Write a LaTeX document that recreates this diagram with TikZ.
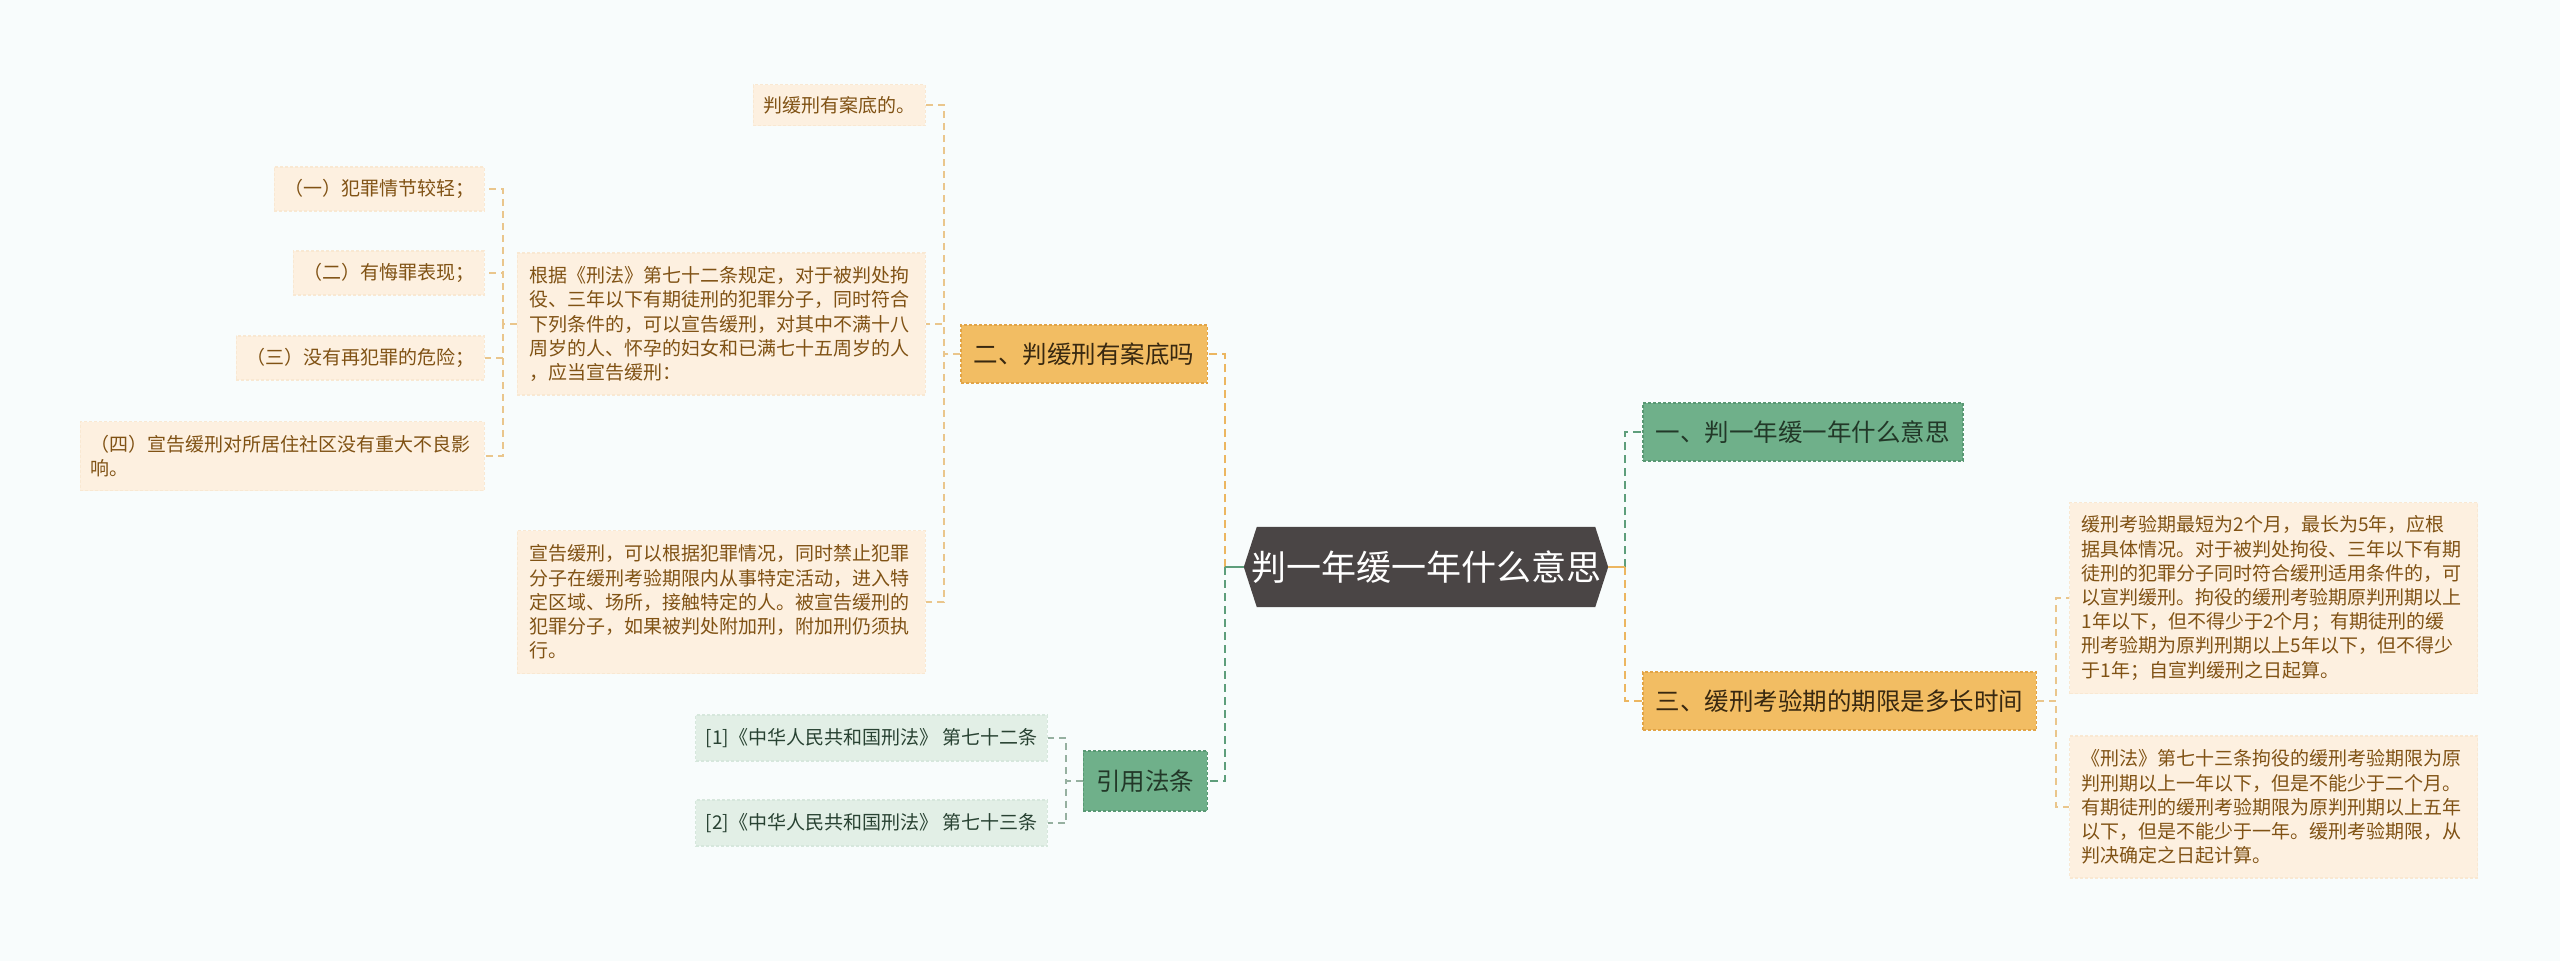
\documentclass[tikz,border=0pt]{standalone}
\usepackage{fontspec}
\setmainfont{Noto Sans CJK SC}
\usetikzlibrary{calc,backgrounds}
\definecolor{bgc}{RGB}{248,252,252}
\definecolor{hexc}{RGB}{74,69,69}
\definecolor{grnfill}{RGB}{111,176,138}
\definecolor{grnline}{RGB}{88,152,115}
\definecolor{grntext}{RGB}{34,56,40}
\definecolor{orfill}{RGB}{242,189,99}
\definecolor{orline}{RGB}{226,164,70}
\definecolor{ortext}{RGB}{56,40,16}
\definecolor{crfill}{RGB}{253,240,224}
\definecolor{crline}{RGB}{249,232,210}
\definecolor{crtext}{RGB}{128,82,20}
\definecolor{lgfill}{RGB}{226,239,230}
\definecolor{lgline}{RGB}{214,231,220}
\definecolor{lgtext}{RGB}{40,66,50}
\definecolor{cong}{RGB}{94,158,123}
\definecolor{cono}{RGB}{236,182,96}
\definecolor{conl}{RGB}{234,198,140}
\definecolor{conlg}{RGB}{150,176,160}
\tikzset{
  branchg/.style={rectangle, fill=grnfill, draw=grnline, dash pattern=on 3pt off 2pt, line width=1.5pt,
    text=grntext, font=\fontsize{24.5}{29}\selectfont, inner xsep=13pt, minimum height=58pt},
  brancho/.style={rectangle, fill=orfill, draw=orline, dash pattern=on 3pt off 2pt, line width=1.5pt,
    text=ortext, font=\fontsize{24.5}{29}\selectfont, inner xsep=13pt, minimum height=58pt},
  leafc/.style={rectangle, fill=crfill, draw=crline, dash pattern=on 3pt off 2pt, line width=1.2pt,
    text=crtext, font=\fontsize{19}{24.2}\selectfont, inner xsep=10pt, minimum height=44pt},
  leafm/.style={leafc, align=left, text width=384pt, inner xsep=12pt},
  leafg/.style={rectangle, fill=lgfill, draw=lgline, dash pattern=on 3pt off 2pt, line width=1.2pt,
    text=lgtext, font=\fontsize{19}{24.2}\selectfont, inner xsep=10pt, minimum height=46pt},
  cg/.style={draw=cong, line width=2.5pt, dash pattern=on 8pt off 5pt},
  co/.style={draw=cono, line width=2.5pt, dash pattern=on 8pt off 5pt},
  stubg/.style={draw=cong, line width=2.5pt},
  stubo/.style={draw=cono, line width=2.5pt},
  cl/.style={draw=conl, line width=1.6pt, dash pattern=on 7pt off 5pt},
  clg/.style={draw=conlg, line width=1.6pt, dash pattern=on 7pt off 5pt},
}
\begin{document}
\begin{tikzpicture}[x=1pt,y=-1pt]
\useasboundingbox (0,0) rectangle (2560,961);

% central node
\node[rectangle, minimum width=364pt, minimum height=80pt, text=white,
  font=\fontsize{35}{40}\selectfont] (hex) at (1426,567) {判一年缓一年什么意思};

% right branches
\node[branchg, anchor=west] (n1) at (1642,432) {一、判一年缓一年什么意思};
\node[brancho, anchor=west] (n3) at (1642,701) {三、缓刑考验期的期限是多长时间};
\node[leafm, anchor=west, minimum height=191pt] (r1) at (2069,598) {缓刑考验期最短为2个月，最长为5年，应根\\据具体情况。对于被判处拘役、三年以下有期\\徒刑的犯罪分子同时符合缓刑适用条件的，可\\以宣判缓刑。拘役的缓刑考验期原判刑期以上\\1年以下，但不得少于2个月；有期徒刑的缓\\刑考验期为原判刑期以上5年以下，但不得少\\于1年；自宣判缓刑之日起算。};
\node[leafm, anchor=west, minimum height=142pt] (r2) at (2069,807) {《刑法》第七十三条拘役的缓刑考验期限为原\\判刑期以上一年以下，但是不能少于二个月。\\有期徒刑的缓刑考验期限为原判刑期以上五年\\以下，但是不能少于一年。缓刑考验期限，从\\判决确定之日起计算。};

% left branches
\node[brancho, anchor=east] (n2) at (1208,354) {二、判缓刑有案底吗};
\node[branchg, anchor=east, minimum height=60pt] (nref) at (1208,781) {引用法条};

\node[leafc, anchor=east, minimum height=41pt] (a0) at (926,105) {判缓刑有案底的。};
\node[leafm, anchor=east, minimum height=142pt] (a1) at (926,324) {根据《刑法》第七十二条规定，对于被判处拘\\役、三年以下有期徒刑的犯罪分子，同时符合\\下列条件的，可以宣告缓刑，对其中不满十八\\周岁的人、怀孕的妇女和已满七十五周岁的人\\，应当宣告缓刑：};
\node[leafm, anchor=east, minimum height=143pt] (a2) at (926,602) {宣告缓刑，可以根据犯罪情况，同时禁止犯罪\\分子在缓刑考验期限内从事特定活动，进入特\\定区域、场所，接触特定的人。被宣告缓刑的\\犯罪分子，如果被判处附加刑，附加刑仍须执\\行。};

\node[leafc, anchor=east] (c1) at (485,189) {（一）犯罪情节较轻；};
\node[leafc, anchor=east] (c2) at (485,273) {（二）有悔罪表现；};
\node[leafc, anchor=east] (c3) at (485,358) {（三）没有再犯罪的危险；};
\node[leafm, anchor=east, minimum height=69pt, inner xsep=10pt] (c4) at (485,456) {（四）宣告缓刑对所居住社区没有重大不良影\\响。};

\node[leafg, anchor=east] (ref1) at (1048,738) {[1]《中华人民共和国刑法》 第七十二条};
\node[leafg, anchor=east] (ref2) at (1048,823) {[2]《中华人民共和国刑法》 第七十三条};

% junctions
\coordinate (jR) at (1625,567);
\coordinate (jL) at (1225,567);
\coordinate (j2) at (944,354);
\coordinate (jc) at (503,324);
\coordinate (jref) at (1066,781);
\coordinate (j3) at (2056,701);

% connectors
\draw[co] (jL) |- (n2.east);
\draw[cg] (jL) |- (nref.east);
\draw[stubg] (hex.west) -- (jL);
\draw[cg] (jR) |- (n1.west);
\draw[co] (jR) |- (n3.west);
\draw[stubo] (hex.east) -- (jR);

\draw[cl] (n2.west) -- (j2) |- (a0.east);
\draw[cl] (n2.west) -- (j2) |- (a1.east);
\draw[cl] (n2.west) -- (j2) |- (a2.east);

\draw[cl] (a1.west) -- (jc) |- (c1.east);
\draw[cl] (a1.west) -- (jc) |- (c2.east);
\draw[cl] (a1.west) -- (jc) |- (c3.east);
\draw[cl] (a1.west) -- (jc) |- (c4.east);

\draw[clg] (nref.west) -- (jref) |- (ref1.east);
\draw[clg] (nref.west) -- (jref) |- (ref2.east);

\draw[cl] (n3.east) -- (j3) |- (r1.west);
\draw[cl] (n3.east) -- (j3) |- (r2.west);

\begin{scope}[on background layer]
  \fill[bgc] (0,0) rectangle (2560,961);
  \fill[hexc] ($(hex.north west)+(13,0)$) -- ($(hex.north east)+(-13,0)$) -- (hex.east)
    -- ($(hex.south east)+(-13,0)$) -- ($(hex.south west)+(13,0)$) -- (hex.west) -- cycle;
\end{scope}
\end{tikzpicture}
\end{document}
